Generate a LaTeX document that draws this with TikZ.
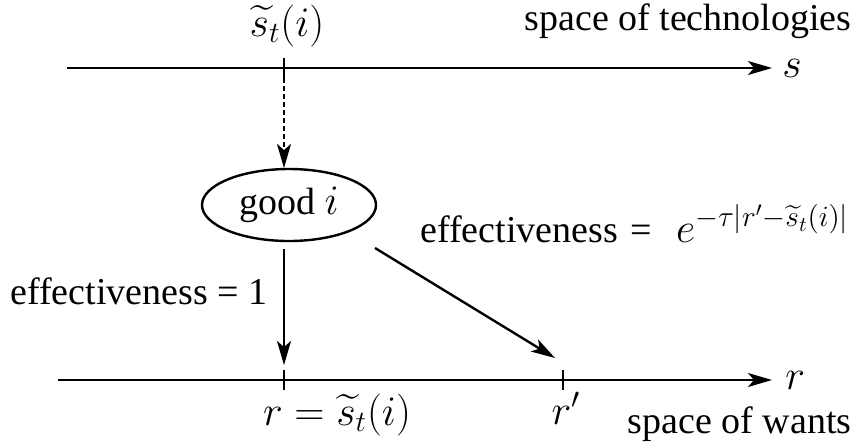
\RequirePackage{fix-cm}
\documentclass[tikz,border=0pt]{standalone}
\usepackage{amsmath}
\usepackage{fontspec}
\setmainfont{Liberation Serif}
\newfontfamily\timesfont{Liberation Serif}
\usetikzlibrary{calc, arrows.meta, positioning, shapes.geometric}
\newcommand{\bigmath}[1]{{\fontsize{21}{25}\selectfont$#1$}}

\begin{document}
\begin{tikzpicture}[
        x=0.5pt, y=-0.5pt,
        font=\timesfont\fontsize{19}{23}\selectfont,
        >={Stealth[length=12pt, width=7pt, inset=3pt]},
        % Styles
        axis/.style={->, line width=1.2pt},
        tickmark/.style={line width=1pt},
        good/.style={ellipse, draw, line width=1.2pt, minimum width=87pt, minimum height=36pt, inner sep=0pt},
        link/.style={->, line width=1.2pt},
        hint/.style={->, line width=1.2pt, dash pattern={on 2.5pt off 1.5pt}}
    ]
    \useasboundingbox (0,0) rectangle (861,446);

    % 1. TECHNOLOGY AXIS
    \coordinate (s0) at (67,68);
    \coordinate (s1) at (772,68);
    \draw[axis] (s0) -- (s1);
    \node[anchor=west, inner sep=0pt] (slab) at (782,68) {\bigmath{s}};
    \coordinate (stick) at (284,68);
    \draw[tickmark] ($(stick)+(0,-10)$) -- ($(stick)+(0,10)$);
    \node[anchor=base, inner sep=0pt] (stilde) at (287,36) {\bigmath{\widetilde{s}_t(i)}};
    \node[anchor=base east, inner sep=0pt] (techspace) at (852,30) {space of technologies};

    % 2. THE GOOD
    \node[good] (goodi) at (289,205) {good \bigmath{i}};
    \coordinate (gtop) at (284,168);
    \draw[hint] ($(stick)+(0,10)$) -- (gtop);

    % 3. WANTS AXIS
    \coordinate (r0) at (58,380);
    \coordinate (r1) at (772,380);
    \draw[axis] (r0) -- (r1);
    \node[anchor=west, inner sep=0pt] (rlab) at (785,380) {\bigmath{r}};
    \coordinate (rtick) at (284,380);
    \coordinate (rptick) at (563,380);
    \draw[tickmark] ($(rtick)+(0,-10)$) -- ($(rtick)+(0,10)$);
    \draw[tickmark] ($(rptick)+(0,-10)$) -- ($(rptick)+(0,10)$);
    \node[anchor=base, inner sep=0pt] (rlabel) at (337,425) {\bigmath{r=\widetilde{s}_t(i)}};
    \node[anchor=base, inner sep=0pt] (rplabel) at (566,424) {\bigmath{r'}};
    \node[anchor=base east, inner sep=0pt] (wantspace) at (852,433) {space of wants};

    % 4. EFFECTIVENESS
    \coordinate (gbot) at (284,249);
    \coordinate (gside) at (375,248);
    \coordinate (rtop) at (284,365);
    \coordinate (rptop) at (555,358);
    \draw[link] (gbot) -- (rtop);
    \draw[link] (gside) -- (rptop);
    \node[anchor=base west, inner sep=0pt] (eff1) at (10,304) {effectiveness = 1};
    \node[anchor=base west, inner sep=0pt] (effe) at (420,242) {effectiveness\,\,=\hspace{12pt}{\fontsize{21}{24}\selectfont$e^{-\tau|r'-\widetilde{s}_t(i)|}$}};
\end{tikzpicture}
\end{document}
